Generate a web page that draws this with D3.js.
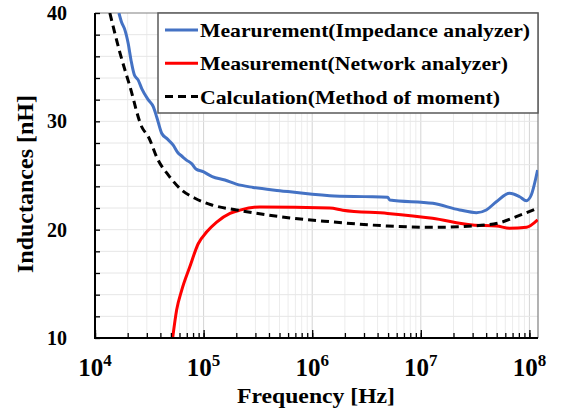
<!DOCTYPE html>
<html>
<head>
<meta charset="utf-8">
<script src="https://cdn.jsdelivr.net/npm/d3@7"></script>
<style>
	body { margin: 0; background: #fff; }
	svg { display: block; font-family: 'Liberation Serif', 'Times New Roman', serif; font-weight: bold; }
</style>
</head>
<body>
<script>
// Mearurement (impedance analyzer)
const impFreq = [1.66e4, 1.75e4, 1.89e4, 1.95e4, 2.02e4, 2.15e4, 2.3e4, 2.5e4, 2.7e4, 3.09e4, 3.44e4, 3.7e4, 4.11e4, 4.6e4, 5.25e4, 5.8e4, 6.28e4, 7.0e4, 7.76e4, 8.5e4, 9.91e4, 1.2e5, 1.57e5, 2.0e5, 2.86e5, 5.03e5, 1.45e6, 3.0e6, 4.95e6, 5.18e6, 1.29e7, 2.28e7, 3.25e7, 4.01e7, 4.96e7, 6.57e7, 8.13e7, 9.37e7, 1.04e8, 1.19e8]
const impL = [40, 39.2, 38.4, 37.9, 37.2, 35.6, 34.3, 33.8, 33.0, 32.0, 31.35, 30.4, 28.9, 28.4, 27.8, 27.1, 26.8, 26.4, 26.1, 25.6, 25.35, 24.9, 24.58, 24.2, 23.9, 23.6, 23.14, 23.05, 23.0, 22.74, 22.43, 21.82, 21.57, 21.82, 22.58, 23.36, 23.04, 22.67, 23.2, 25.5]
// Measurement (network analyzer)
const netFreq = [5.19e4, 5.65e4, 6.28e4, 7.48e4, 8.92e4, 1.07e5, 1.32e5, 1.75e5, 2.16e5, 3.3e5, 1.45e6, 1.91e6, 4.95e6, 1.28e7, 3.0e7, 4.99e7, 6.57e7, 9.42e7, 1.19e8]
const netL = [10, 12.6, 14.4, 16.6, 18.7, 19.8, 20.7, 21.5, 21.8, 22.1, 22.0, 21.8, 21.5, 21.05, 20.43, 20.34, 20.13, 20.22, 20.9]
// Calculation (method of moment)
const calcFreq = [1.37e4, 1.7e4, 2.1e4, 2.69e4, 3.09e4, 3.82e4, 4.72e4, 6.28e4, 8.32e4, 1.19e5, 2.01e5, 5.03e5, 1.45e6, 4.95e6, 1.28e7, 3.0e7, 5.32e7, 7.57e7, 1.19e8]
const calcL = [40, 36.3, 33.2, 29.5, 28.6, 26.4, 25.05, 23.66, 22.9, 22.28, 21.82, 21.2, 20.74, 20.34, 20.22, 20.34, 20.64, 21.2, 21.97]

const legendLabels = ['Mearurement(Impedance analyzer)', 'Measurement(Network analyzer)', 'Calculation(Method of moment)']
const xDecades = [4, 5, 6, 7, 8]
const yLabels = [10, 20, 30, 40]

const W = 562, H = 413
const plot = { left: 95, right: 538, top: 13, bottom: 338 }

const svg = d3.select('body').append('svg').attr('width', W).attr('height', H)

const x = d3.scaleLog().domain([1e4, 1.2e8]).range([plot.left, plot.right])
const y = d3.scaleLinear().domain([10, 40]).range([plot.bottom, plot.top])

// grid
const xMinor = []
xDecades.forEach(e => d3.range(1, 10).forEach(k => {
	const v = k * Math.pow(10, e)
	if (v <= 1.2e8) xMinor.push(v)
}))
const grid = svg.append('g')
grid.selectAll('line.xg').data(xMinor).join('line').classed('xg', true)
	.attr('x1', d => x(d)).attr('x2', d => x(d))
	.attr('y1', plot.top).attr('y2', plot.bottom)
	.attr('stroke', (d, i) => i % 9 === 0 ? '#d4d4d4' : '#ececec')
	.attr('stroke-width', 1)
grid.selectAll('line.yg').data(d3.range(12, 40, 2)).join('line').classed('yg', true)
	.attr('x1', plot.left).attr('x2', plot.right)
	.attr('y1', d => y(d)).attr('y2', d => y(d))
	.attr('stroke', '#e6e6e6')

// frame (top and right in gray)
svg.append('path')
	.attr('d', `M${plot.left},${plot.top}H${plot.right}V${plot.bottom}`)
	.attr('fill', 'none').attr('stroke', '#808080').attr('stroke-width', 1.2)

// curves
svg.append('clipPath').attr('id', 'clip').append('rect')
	.attr('x', plot.left).attr('y', plot.top)
	.attr('width', plot.right - plot.left).attr('height', plot.bottom - plot.top)
const line = d3.line().x(d => x(d[0])).y(d => y(d[1])).curve(d3.curveMonotoneX)
const series = [
	{ pts: d3.zip(impFreq, impL), color: '#4472C4', dash: null },
	{ pts: d3.zip(netFreq, netL), color: '#FF0000', dash: null },
	{ pts: d3.zip(calcFreq, calcL), color: '#000000', dash: '8,5' },
]
const curves = svg.append('g').attr('clip-path', 'url(#clip)')
curves.selectAll('path').data(series).join('path')
	.attr('d', d => line(d.pts))
	.attr('fill', 'none')
	.attr('stroke', d => d.color)
	.attr('stroke-width', 3)
	.attr('stroke-dasharray', d => d.dash)

// axes
const xAxisMinor = d3.axisBottom(x).tickValues(xMinor).tickSize(-5).tickFormat('')
const xAxisMajor = d3.axisBottom(x).tickValues(xDecades.map(e => Math.pow(10, e))).tickSize(-8).tickFormat('')
const yAxis = d3.axisLeft(y).tickValues(d3.range(10, 41, 2)).tickSize(-5).tickFormat('')
;[xAxisMinor, xAxisMajor].forEach(a => {
	svg.append('g').attr('transform', `translate(0,${plot.bottom})`).call(a)
		.call(g => g.select('.domain').remove())
		.selectAll('line').attr('stroke', '#000').attr('stroke-width', 1.3)
})
svg.append('g').attr('transform', `translate(${plot.left},0)`).call(yAxis)
	.call(g => g.select('.domain').remove())
	.selectAll('line').attr('stroke', '#000').attr('stroke-width', 1.3)
svg.append('path')
	.attr('d', `M${plot.left},${plot.top}V${plot.bottom}H${plot.right}`)
	.attr('fill', 'none').attr('stroke', '#000').attr('stroke-width', 2)

// tick labels
const xl = svg.append('g').selectAll('text').data(xDecades).join('text')
	.attr('x', d => x(Math.pow(10, d)))
	.attr('y', 376)
	.attr('text-anchor', 'middle')
	.attr('font-size', 25)
xl.append('tspan').text('10')
xl.append('tspan').attr('dy', -10).attr('font-size', 17).text(d => d)

svg.append('g').selectAll('text').data(yLabels).join('text')
	.attr('x', 67)
	.attr('y', d => y(d) + 7)
	.attr('text-anchor', 'end')
	.attr('font-size', 20)
	.text(d => d)

// axis titles
svg.append('text')
	.attr('x', 237).attr('y', 403)
	.attr('font-size', 22)
	.attr('textLength', 158).attr('lengthAdjust', 'spacingAndGlyphs')
	.text('Frequency [Hz]')
svg.append('text')
	.attr('transform', 'translate(33,184) rotate(-90)')
	.attr('text-anchor', 'middle')
	.attr('font-size', 24)
	.text('Inductances [nH]')

// legend
const lg = svg.append('g')
lg.append('rect')
	.attr('x', 158).attr('y', 13).attr('width', 380).attr('height', 100)
	.attr('fill', '#fff').attr('stroke', '#595959').attr('stroke-width', 1.5)
const textLens = [330, 308, 300]
const row = lg.selectAll('g.row').data(series).join('g').classed('row', true)
	.attr('transform', (_, i) => `translate(0,${30 + i * 33.3})`)
row.append('line')
	.attr('x1', 165).attr('x2', 198)
	.attr('stroke', d => d.color).attr('stroke-width', 3)
	.attr('stroke-dasharray', d => d.dash)
row.append('text')
	.attr('x', 200).attr('y', 7)
	.attr('font-size', 19)
	.attr('textLength', (_, i) => textLens[i]).attr('lengthAdjust', 'spacingAndGlyphs')
	.text((_, i) => legendLabels[i])
</script>
</body>
</html>
